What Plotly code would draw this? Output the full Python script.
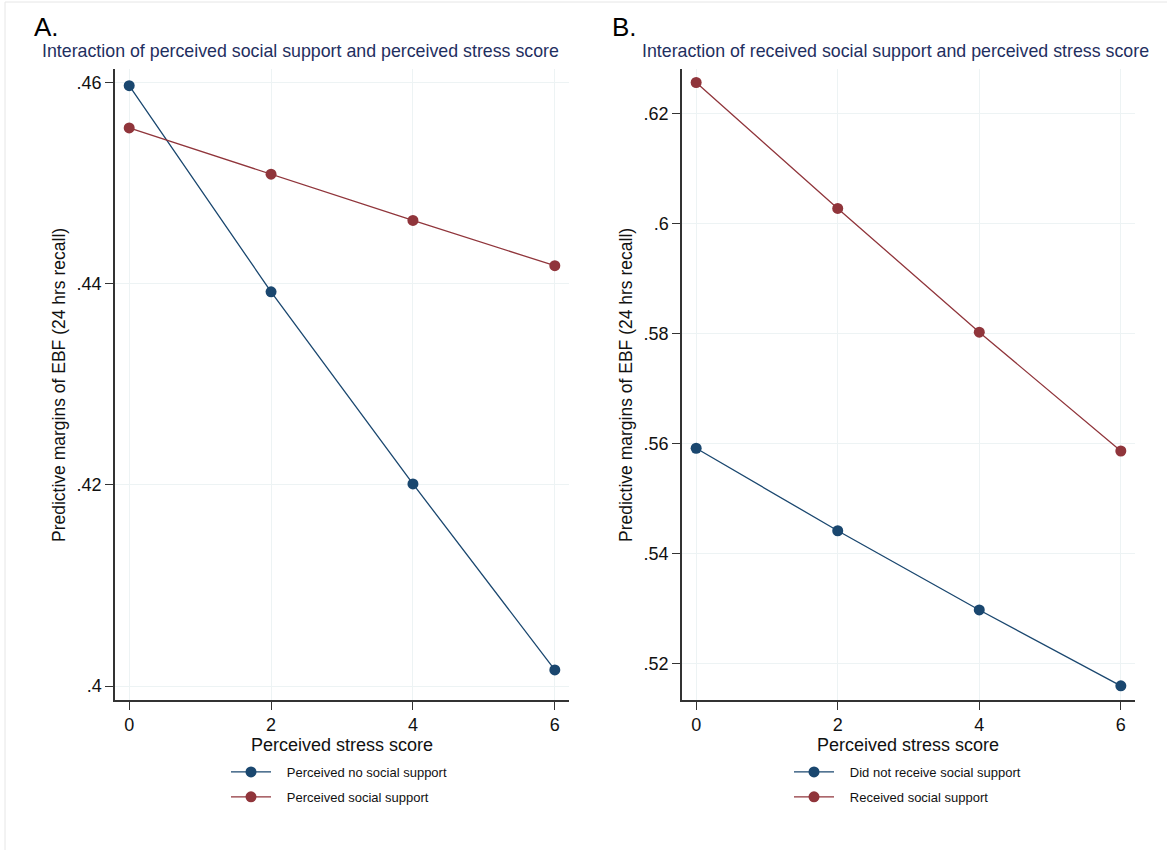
import plotly.graph_objects as go

# Predictive margins of EBF by perceived stress score
stress_score = [0, 2, 4, 6]

# Panel A: perceived social support
a_no_support = [0.4597, 0.4392, 0.4201, 0.4016]
a_support = [0.4555, 0.4509, 0.4463, 0.4418]
a_ticks = [0.40, 0.42, 0.44, 0.46]
a_ticklabels = [".4", ".42", ".44", ".46"]

# Panel B: received social support
b_no_support = [0.5591, 0.5441, 0.5297, 0.5159]
b_support = [0.6256, 0.6027, 0.5802, 0.5586]
b_ticks = [0.52, 0.54, 0.56, 0.58, 0.60, 0.62]
b_ticklabels = [".52", ".54", ".56", ".58", ".6", ".62"]

x_ticks = [0, 2, 4, 6]
x_ticklabels = ["0", "2", "4", "6"]

a_names = ["Perceived no social support", "Perceived social support"]
b_names = ["Did not receive social support", "Received social support"]

W, H = 1167, 850
BLUE = "#1a476f"
RED = "#90353b"
NAVY = "#1f2f5f"
FONT = "Liberation Sans, Arial, sans-serif"
PAD = "\u00a0" * 3  # gap between legend key and label


def px(p):
    return p / W


def py(p):
    return 1 - p / H


fig = go.Figure()


def add_series(xa, ya, y, name, color, legend, group):
    fig.add_trace(go.Scatter(
        x=stress_score, y=y, name=PAD + name, mode="lines+markers",
        line=dict(color=color, width=1.3),
        marker=dict(color=color, size=11),
        xaxis=xa, yaxis=ya, legend=legend, legendgroup=group,
    ))


add_series("x", "y", a_no_support, a_names[0], BLUE, "legend", "a0")
add_series("x", "y", a_support, a_names[1], RED, "legend", "a1")
add_series("x2", "y2", b_no_support, b_names[0], BLUE, "legend2", "b0")
add_series("x2", "y2", b_support, b_names[1], RED, "legend2", "b1")

axis_common = dict(
    showline=True, linecolor="#333333", linewidth=1.5,
    ticks="outside", ticklen=8, tickwidth=1.2, tickcolor="#333333",
    showgrid=True, gridcolor="#edf3f4", gridwidth=1,
    zeroline=False, tickfont=dict(family=FONT, size=18, color="#111111"),
)

y_top, y_bot = 69.3, 700

legend_common = dict(
    xanchor="left", yanchor="top",
    font=dict(family=FONT, size=13, color="#111111"),
    itemwidth=40, tracegroupgap=5, traceorder="grouped",
    bgcolor="rgba(0,0,0,0)",
)

fig.update_layout(
    width=W, height=H,
    margin=dict(l=0, r=0, t=0, b=0),
    paper_bgcolor="white", plot_bgcolor="white",
    font=dict(family=FONT, color="#111111"),
    xaxis=dict(domain=[px(115), px(569)], range=[-0.2, 6.2],
               tickvals=x_ticks, ticktext=x_ticklabels, anchor="y", **axis_common),
    yaxis=dict(domain=[py(y_bot), py(y_top)], range=[0.39861, 0.46133],
               tickvals=a_ticks, ticktext=a_ticklabels, anchor="x", **axis_common),
    xaxis2=dict(domain=[px(682), px(1135)], range=[-0.2, 6.2],
                tickvals=x_ticks, ticktext=x_ticklabels, anchor="y2", **axis_common),
    yaxis2=dict(domain=[py(y_bot), py(y_top)], range=[0.51333, 0.628],
                tickvals=b_ticks, ticktext=b_ticklabels, anchor="x2", **axis_common),
    legend=dict(x=px(226), y=py(757), **legend_common),
    legend2=dict(x=px(789), y=py(757), **legend_common),
)

annotations = [
    dict(text="A.", x=px(32), y=py(27), xanchor="left", yanchor="middle",
         font=dict(size=26, color="#000000")),
    dict(text="B.", x=px(610), y=py(27), xanchor="left", yanchor="middle",
         font=dict(size=26, color="#000000")),
    dict(text="Interaction of perceived social support and perceived stress score",
         x=px(40), y=py(51), xanchor="left", yanchor="middle",
         font=dict(size=17.8, color=NAVY)),
    dict(text="Interaction of received social support and perceived stress score",
         x=px(640), y=py(51), xanchor="left", yanchor="middle",
         font=dict(size=17.8, color=NAVY)),
    dict(text="Predictive margins of EBF (24 hrs recall)", textangle=-90,
         x=px(59), y=py(385), xanchor="center", yanchor="middle",
         font=dict(size=17.5, color="#111111")),
    dict(text="Predictive margins of EBF (24 hrs recall)", textangle=-90,
         x=px(626), y=py(385), xanchor="center", yanchor="middle",
         font=dict(size=17.5, color="#111111")),
    dict(text="Perceived stress score", x=px(342), y=py(745),
         xanchor="center", yanchor="middle", font=dict(size=18, color="#111111")),
    dict(text="Perceived stress score", x=px(908), y=py(745),
         xanchor="center", yanchor="middle", font=dict(size=18, color="#111111")),
]
for a in annotations:
    a.update(xref="paper", yref="paper", showarrow=False)
    a["font"]["family"] = FONT
fig.update_layout(annotations=annotations)

# faint outer frame along the top and left edges
fig.add_shape(type="line", xref="paper", yref="paper", x0=px(5), x1=1, y0=py(2), y1=py(2),
              line=dict(color="#e6e6e6", width=1))
fig.add_shape(type="line", xref="paper", yref="paper", x0=px(5), x1=px(5), y0=0, y1=py(2),
              line=dict(color="#e6e6e6", width=1))

fig.write_html("out.html")
